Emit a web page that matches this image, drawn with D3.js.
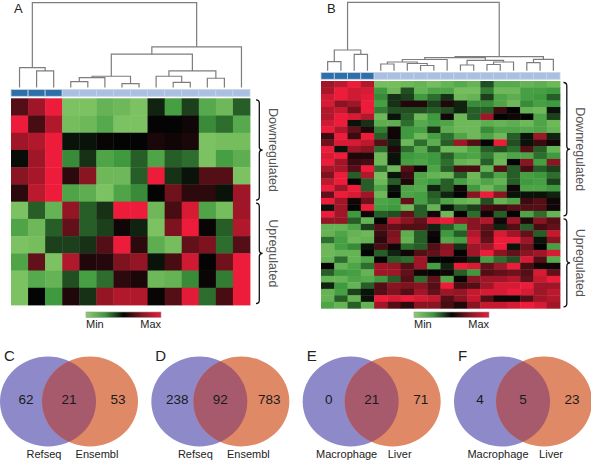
<!DOCTYPE html>
<html><head><meta charset="utf-8">
<script src="https://cdn.jsdelivr.net/npm/d3@7"></script>
<style>body{margin:0;background:#fff}svg{display:block;font-family:"Liberation Sans",Arial,sans-serif}</style>
</head><body><svg id="c" width="591" height="461"></svg>
<script>
// ---------- DATA ----------
const groupsA = ["D","D","D","L","L","L","L","L","L","L","L","L","L","L"];
const groupsB = ["D","D","D","D","L","L","L","L","L","L","L","L","L","L","L","L","L","L"];
const rowClassA = ["Downregulated","Upregulated"];
const heatA = [
 [0.3,0.6,1,-0.9,-0.9,-0.75,-0.8,-0.9,-0.1,-0.55,-0.2,-0.65,-0.8,-0.3],
 [1,0.25,0.7,-0.85,-0.8,-0.65,-0.9,-0.9,0,0,0.05,-0.45,-0.35,-0.65],
 [0.6,0.7,1,-0.05,-0.05,0.02,0,0,0.08,0.05,0.08,-0.9,-0.85,-0.85],
 [-0.03,0.6,1,-0.45,-0.15,-0.6,-0.5,-0.3,-0.6,-0.3,-0.35,-0.9,-0.55,-0.7],
 [0.5,0.65,1,0.15,0.5,-0.8,-0.8,-0.3,1,-0.15,-0.05,0.3,0.3,-0.9],
 [0.15,0.75,1,-0.6,-0.7,-0.9,-0.6,-0.45,0,0.4,0.15,0.15,-0.05,0.6],
 [-0.9,-0.3,-0.75,0.55,-0.3,-0.15,1,1,-0.8,0.25,0.9,-0.6,-0.85,0.6],
 [-0.6,-0.8,-0.3,0.35,-0.3,-0.2,0.05,-0.1,-0.9,0.45,1,0.02,-0.3,0.7],
 [-0.9,-0.85,-0.2,-0.2,-0.15,0.3,1,0.15,-0.7,-0.85,0.35,0.45,-0.35,0.3],
 [-0.6,0.35,-0.9,0.7,0.1,0.12,0.45,0.55,-0.05,0.25,0.85,0,0.4,1],
 [-0.9,-0.65,-0.75,-0.25,-0.55,-0.35,0.15,0.08,-0.8,-0.75,-0.45,0.03,-0.4,1],
 [-0.9,0,-0.5,0.1,-0.15,0.55,0.7,0.7,0.02,0.3,0.95,-0.35,0.25,1]
];
const downRowsA = 6;
const heatB = [
 [0.6,0.75,1,0.7,-0.85,-0.85,-0.8,-0.75,-0.85,-0.75,-0.65,-0.75,-0.25,-0.65,-0.65,-0.75,-0.7,-0.8],
 [0.65,1,0.85,0.9,-0.5,-0.8,-0.25,-0.75,-0.6,-0.6,-0.85,-0.85,-0.4,-0.8,-0.8,-0.55,-0.55,-0.5],
 [0.85,1,0.85,0.95,-0.45,-0.15,-0.2,-0.5,-0.35,-0.15,-0.8,-0.75,-0.2,-0.6,-0.7,-0.55,-0.5,-0.3],
 [0.9,0.5,0.6,1,-0.55,-0.15,0.1,0.1,-0.2,0.1,-0.1,-0.45,-0.45,-0.6,-0.8,-0.45,-0.55,-0.5],
 [0.7,0.8,0.4,1,-0.4,-0.25,-0.25,-0.25,-0.3,-0.25,-0.1,-0.3,-0.3,0.2,0,-0.75,-0.8,-0.05],
 [0.7,1,0.9,0.7,-0.8,-0.05,-0.3,-0.8,-0.5,0.05,-0.8,-0.3,0.6,0,0.05,0,-0.6,-0.2],
 [0.85,1,-0.05,-0.15,-0.7,-0.7,-0.35,-0.65,-0.55,-0.6,-0.8,-0.8,-0.7,-0.75,-0.7,-0.8,-0.6,-0.8],
 [1,0.7,0.35,0.1,-0.4,0.05,-0.5,-0.55,-0.15,-0.7,-0.8,-0.8,-0.45,-0.6,-0.6,-0.65,-0.6,-0.75],
 [0.2,1,0.2,1,-0.3,0.05,-0.5,-0.8,-0.55,-0.35,-0.6,-0.8,-0.6,-0.8,-0.3,-0.05,0.6,-0.1],
 [0.4,0.9,0.9,0.75,0.3,-0.1,-0.8,-0.35,-0.7,-0.3,0.6,0.3,0,1,-0.25,-0.05,0.2,0.05],
 [1,-0.05,0.6,0.5,-0.35,0.1,-0.35,-0.65,-0.3,-0.8,-0.8,-0.6,-0.3,-0.25,-0.35,0.3,-0.3,-0.75],
 [0.9,1,0.1,0.1,-0.8,-0.05,-0.5,-0.55,-0.5,-0.3,-0.55,-0.6,-0.4,-0.75,-0.6,-0.6,-0.35,-0.5],
 [1,0.6,0.2,0.25,-0.8,-0.05,-0.55,-0.6,-0.5,-0.35,-0.75,-0.8,-0.3,-0.8,0,0.5,-0.55,0.5],
 [0.65,0.65,0.3,1,-0.35,-0.8,0.3,0.05,-0.6,-0.3,0.25,0.25,-0.75,0.3,-0.3,0.25,-0.3,-0.2],
 [0.45,1,-0.3,0.7,-0.85,-0.05,0.2,-0.6,-0.75,-0.8,-0.3,-0.8,-0.35,-0.6,-0.3,-0.55,-0.5,-0.35],
 [0.75,1,0,-0.3,-0.8,-0.3,0.1,-0.6,-0.5,-0.3,-0.55,-0.75,-0.6,-0.75,-0.3,-0.5,-0.55,-0.2],
 [1,0.6,1,-0.3,-0.6,-0.05,-0.6,-0.65,-0.1,-0.3,0.05,-0.5,-0.8,-0.55,0.05,-0.6,-0.6,-0.5],
 [0.35,1,0.9,0.6,-0.8,0,-0.6,-0.55,-0.3,-0.1,0,0.5,1,0.5,-0.05,-0.05,-0.05,-0.1],
 [1,0.6,0.05,0.4,-0.6,-0.55,0.35,-0.55,-0.35,-0.6,-0.75,-0.8,-0.25,-0.75,-0.6,0.2,0.3,0.05],
 [-0.05,0.6,0,1,-0.55,-0.5,-0.8,-0.3,-0.75,-0.05,-0.3,-0.2,0.25,0.2,0.3,0.3,0.3,0.05],
 [1,0.6,-0.5,0.05,-0.3,-0.25,0.35,-0.3,0.05,-0.8,0,-0.35,0.05,-0.3,0,-0.6,-0.35,-0.75],
 [0.55,0.55,-0.3,-0.75,0,0.75,0.5,0.35,0.9,1,0.6,0.5,0.7,0.05,0.6,0.1,0.5,0.3],
 [-0.75,-0.75,-0.6,-0.2,0.3,0.35,0.3,0.3,-0.1,-0.3,-0.55,0.5,0.35,-0.1,0.3,-0.3,0.25,0.35],
 [-0.75,-0.6,-0.75,-0.8,0.2,0.45,-0.7,-0.3,0.05,-0.5,-0.3,0.7,0.3,0.9,0.6,0.35,-0.3,0.8],
 [-0.35,-0.55,-0.8,-0.75,0.15,0.5,-0.75,-0.3,0,-0.65,-0.55,0.85,0.35,1,1,0.6,-0.05,0.5],
 [-0.8,-0.55,-0.45,-0.05,0.25,0.05,-0.35,-0.3,0.3,0.5,-0.15,0.6,0.6,1,-0.05,0.4,0,-0.55],
 [-0.8,-0.75,-0.75,0,-0.3,-0.1,0.05,0.3,0.35,0.55,0,0.6,1,0.5,0.35,0.5,0.6,0.9],
 [-0.75,-0.35,-0.75,-0.6,0,-0.3,-0.35,0.6,0,0,0.05,-0.1,-0.55,-0.35,-0.25,0.9,0.3,-0.65],
 [0.02,-0.75,-0.6,-0.35,0.6,0.55,0.3,0.6,-0.55,-0.1,1,0.9,0.35,0.6,1,0.25,0.05,0.05],
 [-0.3,-0.5,-0.55,-0.75,0.6,0.6,0.35,0.05,0,0.05,-0.3,-0.5,0.3,0.35,0.4,0.3,0.9,0.35],
 [-0.75,-0.75,-0.6,-0.65,-0.5,-0.3,0.3,-0.35,0.35,-0.6,0.02,0.5,0.6,0.6,0.7,0.35,0.8,1],
 [-0.1,-0.5,-0.75,-0.3,0.3,0.5,0.45,0.5,0.3,1,0.25,0.3,0.6,0.9,0.9,1,0.6,0.6],
 [-0.75,-0.55,-0.2,-0.05,0.3,0.45,0.3,0.6,0.35,0.6,0.55,0.8,0.9,0.9,1,0.9,0.6,0.75],
 [-0.75,-0.3,-0.75,-0.05,1,0.9,1,0.9,0.8,0.3,0.5,0.8,0.3,0.05,0.05,0.3,0.6,0.7],
 [-0.6,-0.75,-0.3,-0.75,0.6,0.3,0.15,0.5,0.5,0.25,0.1,0.5,0.8,0.8,0.9,1,0.9,0.6]
];
const downRowsB = 21;
// dendrogram merges: [childA, childB, height]; ids >= n are earlier merges
const dendroA = [[1,2,16.6],[0,14,20],[3,4,6],[16,5,10],[6,7,4],[17,18,11.3],[9,10,5.3],[8,20,11.3],[11,12,9.3],[21,22,16.6],[19,23,33.3],[24,13,40.6],[15,25,84.6]];
const dendroB = [[0,1,9.1],[2,3,16.5],[18,19,20.8],[4,5,6.8],[7,8,5.3],[6,22,7.3],[21,23,8.8],[24,9,11.3],[10,11,5.8],[12,13,6.3],[27,14,8.8],[26,28,10.5],[25,29,13.1],[15,16,8.1],[31,17,11.5],[30,32,14.1],[20,33,68.5]];
const legendLabels = ["Min","Max"];
const vennPanels = ["C","D","E","F"];
const vennLeft = [62,238,0,4];
const vennBoth = [21,92,21,5];
const vennRight = [53,783,71,23];
const vennNamesL = ["Refseq","Refseq","Macrophage","Macrophage"];
const vennNamesR = ["Ensembl","Ensembl","Liver","Liver"];

// ---------- DRAW ----------
const svg = d3.select("#c");
const color = d3.scaleLinear().domain([-1,-0.5,0,0.5,1])
  .range(["#8dcc6b","#3f9a3f","#040404","#8a1522","#ec1c3a"]).clamp(true);
const barColor = {D:"#2c6fa9", L:"#a9c0e3"};

function panel(cfg){
  const {data, groups, dendro, x0, x1, yTop, yBot, barY0, barY1, leafY, rootY, rootH, downRows} = cfg;
  const nC = groups.length, nR = data.length;
  const x = d3.scaleBand().domain(d3.range(nC)).range([x0,x1]);
  const y = d3.scaleBand().domain(d3.range(nR)).range([yTop,yBot]);
  const g = svg.append("g");
  // cells
  data.forEach((row,r)=>row.forEach((v,c)=>{
    g.append("rect").attr("x",x(c)).attr("y",y(r))
     .attr("width",x.bandwidth()+0.4).attr("height",y.bandwidth()+0.4)
     .attr("fill",color(v));
  }));
  // header bar
  groups.forEach((k,c)=>{
    g.append("rect").attr("x",x(c)).attr("y",barY0).attr("width",x.bandwidth()).attr("height",barY1-barY0)
     .attr("fill",barColor[k]).attr("stroke","#c9d3e4").attr("stroke-width",0.8);
  });
  // dendrogram
  const h = d3.scaleLinear().domain([0,rootH]).range([leafY,rootY]);
  const pos = {};
  for(let i=0;i<nC;i++) pos[i] = {x:x(i)+x.bandwidth()/2, y:h(0)};
  dendro.forEach((m,k)=>{
    const a=pos[m[0]], b=pos[m[1]], ym=h(m[2]);
    g.append("path").attr("d",`M${a.x},${a.y}V${ym}H${b.x}V${b.y}`)
     .attr("fill","none").attr("stroke","#7d7d7d").attr("stroke-width",1.2);
    pos[nC+k] = {x:(a.x+b.x)/2, y:ym};
  });
  return {x,y,g};
}

const A = panel({data:heatA, groups:groupsA, dendro:dendroA, x0:11, x1:250, yTop:98.3, yBot:305,
  barY0:89.5, barY1:96.3, leafY:87.6, rootY:2.7, rootH:84.6, downRows:downRowsA});
const B = panel({data:heatB, groups:groupsB, dendro:dendroB, x0:321, x1:560, yTop:81, yBot:308.3,
  barY0:72.5, barY1:79.3, leafY:70.8, rootY:2.3, rootH:68.5, downRows:downRowsB});

// braces
function brace(x, y0, y1, q){
  const ym=(y0+y1)/2;
  return `M${x},${y0} Q${x+q},${y0} ${x+q},${y0+q} L${x+q},${ym-q} Q${x+q},${ym} ${x+2*q},${ym} `+
         `Q${x+q},${ym} ${x+q},${ym+q} L${x+q},${y1-q} Q${x+q},${y1} ${x},${y1}`;
}
function braces(P, nDown, bx, tx){
  const y = P.y, n = y.domain().length;
  const segs = [[0,nDown-1,rowClassA[0]],[nDown,n-1,rowClassA[1]]];
  segs.forEach(([r0,r1,label],i)=>{
    const y0 = y(r0)+1.5, y1 = y(r1)+y.bandwidth()-1.5;
    svg.append("path").attr("d",brace(bx,y0,y1,3.3)).attr("fill","none").attr("stroke","#111").attr("stroke-width",1.3);
    const cy=(y0+y1)/2;
    svg.append("text").attr("transform",`translate(${tx},${cy}) rotate(90)`)
      .attr("text-anchor","middle").attr("dominant-baseline","central")
      .attr("font-size",12.5).attr("fill","#555").text(label);
  });
}
braces(A, downRowsA, 256, 272.5);
braces(B, downRowsB, 563.5, 580);

// color legends
const defs = svg.append("defs");
const grad = defs.append("linearGradient").attr("id","lg");
d3.range(0,1.0001,0.25).forEach(t=>grad.append("stop").attr("offset",t).attr("stop-color",color(t*2-1)));
[[86,161],[414,489]].forEach(([l,r])=>{
  const s = d3.scaleLinear().domain([0,1]).range([l,r]);
  svg.append("rect").attr("x",s(0)).attr("y",312).attr("width",s(1)-s(0)).attr("height",5.5)
    .attr("fill","url(#lg)").attr("stroke","#999").attr("stroke-width",0.6);
  svg.append("text").attr("x",s(0)).attr("y",328).attr("font-size",11).attr("fill","#222").text(legendLabels[0]);
  svg.append("text").attr("x",s(1)).attr("y",328).attr("text-anchor","end").attr("font-size",11).attr("fill","#222").text(legendLabels[1]);
});

// panel letters
[["A",14,13,13],["B",327,13,13]].forEach(([t,x,y,fs])=>
  svg.append("text").attr("x",x).attr("y",y).attr("font-size",fs).attr("fill","#222").text(t));

// venns
const vx = d3.scaleLinear().domain([0,3]).range([48,502]);
const cy = 401.5, rx = 48, ry = 45, off = 42;
vennPanels.forEach((p,i)=>{
  const bx = vx(i), ox = bx+off;
  const g = svg.append("g");
  g.append("ellipse").attr("cx",bx).attr("cy",cy).attr("rx",rx).attr("ry",ry).attr("fill","#8e8aca");
  g.append("ellipse").attr("cx",ox).attr("cy",cy).attr("rx",rx).attr("ry",ry).attr("fill","#df8966");
  defs.append("clipPath").attr("id","cl"+i).append("ellipse").attr("cx",bx).attr("cy",cy).attr("rx",rx).attr("ry",ry);
  g.append("ellipse").attr("cx",ox).attr("cy",cy).attr("rx",rx).attr("ry",ry).attr("fill","#a65a6c").attr("clip-path",`url(#cl${i})`);
  const num = (x,t)=>g.append("text").attr("x",x).attr("y",cy+2).attr("text-anchor","middle").attr("font-size",13.5).attr("fill","#1a1a1a").text(t);
  num(bx-22, vennLeft[i]); num(bx+off/2, vennBoth[i]); num(ox+28, vennRight[i]);
  const nm = (x,t)=>g.append("text").attr("x",x).attr("y",457.5).attr("text-anchor","middle").attr("font-size",11).attr("fill","#222").text(t);
  nm(bx-4, vennNamesL[i]); nm(ox+7, vennNamesR[i]);
  g.append("text").attr("x",bx-44).attr("y",361).attr("font-size",15).attr("fill","#222").text(p);
});
</script></body></html>
